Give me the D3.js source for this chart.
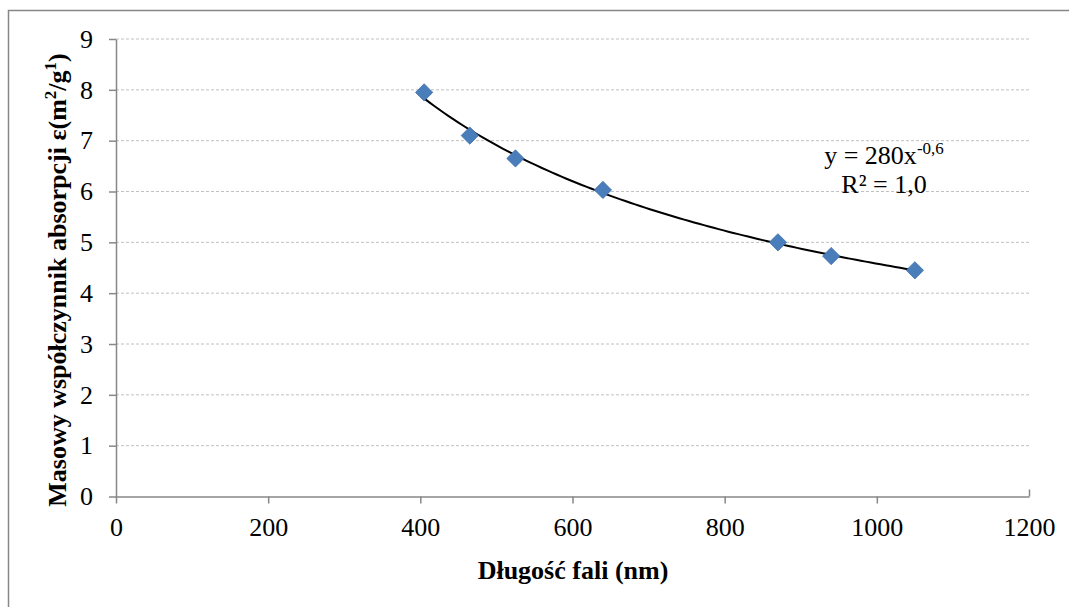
<!DOCTYPE html>
<html><head><meta charset="utf-8">
<script src="https://cdnjs.cloudflare.com/ajax/libs/d3/7.8.5/d3.min.js"></script>
<style>body{margin:0;background:#fff}svg{display:block}svg text{font-family:"Liberation Serif","DejaVu Serif",serif !important}</style>
</head><body><svg id="c" width="1069" height="607"></svg>
<script>
const wavelengths = [405, 465, 525, 640, 870, 940, 1050];
const epsilon = [7.95, 7.10, 6.65, 6.03, 5.00, 4.73, 4.45];
const xTicks = [0, 200, 400, 600, 800, 1000, 1200];
const yTicks = [0, 1, 2, 3, 4, 5, 6, 7, 8, 9];
const xTitle = "Długość fali (nm)";
const eqLine1 = "y = 280x";
const eqExp = "-0,6";
const eqLine2 = "R² = 1,0";

const svg = d3.select("#c");
svg.append("rect").attr("x",8.5).attr("y",10.5).attr("width",1100).attr("height",700)
  .attr("fill","#fff").attr("stroke","#878787").attr("stroke-width",1.5);

const x = d3.scaleLinear().domain([0,1200]).range([116,1029]);
const y = d3.scaleLinear().domain([0,9]).range([496.5,39]);

svg.append("g").selectAll("line").data(yTicks.filter(d=>d>0)).join("line")
  .attr("x1",x(0)).attr("x2",x(1200)).attr("y1",d=>y(d)).attr("y2",d=>y(d))
  .attr("stroke","#c0c0c0").attr("stroke-width",1).attr("stroke-dasharray","3,2");

const gx = svg.append("g").attr("transform",`translate(0,${y(0)})`)
  .call(d3.axisBottom(x).tickValues(xTicks).tickSize(7).tickSizeOuter(0).tickPadding(14).tickFormat(d3.format("d")));
const gy = svg.append("g").attr("transform",`translate(${x(0)},0)`)
  .call(d3.axisLeft(y).tickValues(yTicks).tickSize(7).tickSizeOuter(0).tickPadding(16).tickFormat(d3.format("d")));
[gx,gy].forEach(g=>{
  g.attr("font-family",null).attr("font-size",null);
  g.select(".domain").attr("stroke","#878787").attr("stroke-width",1.5);
  g.selectAll(".tick line").attr("stroke","#878787").attr("stroke-width",1.5);
  g.selectAll(".tick text").attr("font-size",26).attr("fill","#000");
});
gx.selectAll(".tick line").filter(d=>d===1200).attr("y2",-7);

const lx = wavelengths.map(Math.log), ly = epsilon.map(Math.log);
const mx = d3.mean(lx), my = d3.mean(ly);
const b = d3.sum(lx.map((v,i)=>(v-mx)*(ly[i]-my)))/d3.sum(lx.map(v=>(v-mx)**2));
const a = Math.exp(my - b*mx);
const xs = d3.range(0,101).map(i=>wavelengths[0]+(wavelengths[wavelengths.length-1]-wavelengths[0])*i/100);
svg.append("path").datum(xs)
  .attr("d",d3.line().x(d=>x(d)).y(d=>y(a*Math.pow(d,b))))
  .attr("fill","none").attr("stroke","#000").attr("stroke-width",2);

svg.append("g").selectAll("path").data(wavelengths).join("path")
  .attr("d",d3.symbol().type(d3.symbolDiamond2).size(190))
  .attr("transform",(d,i)=>`translate(${x(d)},${y(epsilon[i])})`)
  .attr("fill","#4A7EBB").attr("stroke","#3f6fa8").attr("stroke-width",0.8);

const eq = svg.append("text").attr("x",884).attr("y",164).attr("text-anchor","middle").attr("font-size",26);
eq.append("tspan").text(eqLine1);
eq.append("tspan").attr("font-size",17).attr("dy",-10).text(eqExp);
svg.append("text").attr("x",884).attr("y",193).attr("text-anchor","middle").attr("font-size",26).text(eqLine2);

svg.append("text").attr("x",573).attr("y",579).attr("text-anchor","middle")
  .attr("font-size",26).attr("font-weight","bold").text(xTitle);
const yt = svg.append("text").attr("transform","translate(66,280) rotate(-90)").attr("text-anchor","middle")
  .attr("font-size",26).attr("font-weight","bold");
yt.append("tspan").text("Masowy współczynnik absorpcji ε(m");
yt.append("tspan").attr("font-size",17).attr("dy",-10).text("2");
yt.append("tspan").attr("dy",10).text("/g");
yt.append("tspan").attr("font-size",17).attr("dy",-10).text("1");
yt.append("tspan").attr("dy",10).text(")");
</script></body></html>
